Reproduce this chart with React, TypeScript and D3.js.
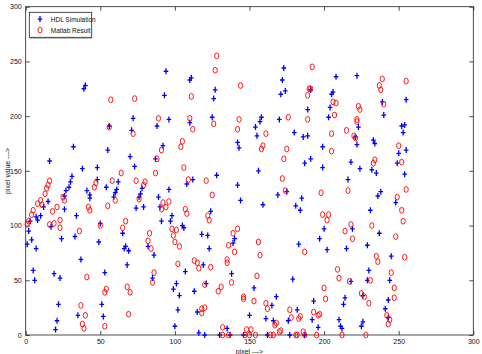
import React, { useEffect, useRef } from "react";
import * as d3 from "d3";

// HDL simulation output (pixel index, pixel value)
const hdlX = [39, 40, 72, 56, 71, 32, 55, 70, 16, 73, 38, 48, 31, 30, 29, 27, 26, 48, 41, 43, 43, 54, 62, 61, 60, 59, 78, 77, 76, 15, 12, 26, 7, 10, 34, 74, 79,
  3, 8, 17, 50, 65, 2, 1, 4, 7, 24, 33, 49, 82, 86, 67, 66, 69, 37, 68, 5, 6, 19, 23, 53, 85, 22, 51, 35, 52, 21, 20,
  94, 111, 110, 173, 172, 93, 127, 126, 174, 171, 191, 189, 96, 125, 158, 170,
  88, 110, 157, 154, 155, 180, 186, 189, 142, 143, 187, 92, 87, 156, 112, 108, 128, 142, 96, 175, 89, 169, 144, 185, 90, 159, 181, 184, 124, 98,
  91, 97, 105, 106, 118, 122, 123, 140, 139, 183, 119, 107, 138, 179, 101, 99, 103, 121, 113, 153, 168, 165, 102, 115, 150, 182, 161, 166, 176, 135, 100,
  116, 120, 130, 137, 146, 162, 177, 187,
  208, 222, 206, 205, 255, 204, 239, 240, 203,
  223, 221, 222, 252, 254, 253, 233, 234, 199, 255, 250, 191, 218, 249, 199, 224, 232, 235, 254, 216, 238, 236, 248, 231,
  200, 219, 237, 197, 229, 202, 215, 245, 230, 218, 229, 244, 226, 214, 243, 213, 193, 241, 243, 192, 210, 226, 225, 196, 211, 212];
const hdlY = [225, 228, 198, 191, 187, 172, 169, 163, 159, 154, 152, 153, 145, 140, 135, 132, 127, 142, 132, 128, 125, 135, 140, 133, 130, 126, 134, 129, 126, 122, 117, 115, 108, 109, 109, 116, 117,
  104, 105, 99, 102, 93, 95, 83, 87, 79, 88, 90, 85, 81, 73, 81, 79, 77, 69, 64, 59, 50, 56, 52, 57, 52, 28, 28, 18, 17, 13, 5,
  241, 235, 233, 244, 233, 219, 224, 216, 223, 220, 224, 206, 197, 199, 199, 197,
  191, 194, 195, 190, 182, 185, 181, 182, 176, 171, 157, 173, 161, 150, 142, 138, 146, 137, 133, 131, 126, 128, 123, 125, 117, 119, 118, 114, 113, 109,
  104, 104, 100, 98, 92, 91, 79, 88, 84, 83, 64, 58, 56, 51, 47, 42, 36, 47, 40, 43, 35, 27, 23, 21, 18, 23, 15, 13, 13, 6, 8,
  2, 0, 0, 0, 0, 0, 0, 0,
  236, 237, 222, 220, 215, 208, 213, 201, 199,
  190, 181, 174, 191, 192, 185, 178, 175, 172, 169, 166, 161, 158, 157, 153, 152, 151, 148, 147, 142, 131, 127, 121, 114,
  97, 97, 93, 88, 82, 78, 79, 72, 59, 49, 50, 50, 36, 34, 32, 28, 31, 24, 16, 14, 14, 12, 8, 7, 8, 6];

// Matlab reference result (pixel index, pixel value)
const matX = [57, 73, 56, 72, 64, 16, 15, 14, 13, 58, 74, 47, 46, 60, 80, 79, 76, 10, 8, 11, 25, 26, 21, 5, 4, 18, 42, 43, 55,
  2, 1, 16, 19, 23, 23, 36, 50, 67, 65, 82, 83, 84, 86, 85, 41, 54, 53, 68, 70, 37, 40, 69, 38, 39, 53,
  128, 127, 144, 192, 111, 190, 191, 189, 89, 110, 143, 176, 189,
  112, 126, 142, 161, 159, 158, 175, 173, 91, 105, 104, 88, 87, 106, 109, 121, 172, 174, 125, 92, 96, 94, 91, 107, 108, 122, 123,
  98, 101, 99, 100, 103, 139, 142, 136, 140, 156, 157, 187, 102, 113, 115, 116, 124, 135, 135, 138, 155, 120, 131, 129, 146, 146, 153, 161, 162, 118, 120, 118,
  177, 178, 184, 183, 168, 167, 132, 148, 151, 170, 171, 186,
  132, 136, 147, 150, 154, 164, 166, 181, 182, 187,
  239, 237, 238, 255, 206, 208, 223, 224, 240, 207, 222,
  222, 215, 205, 220, 221, 250, 205, 234, 233, 252, 216, 255, 198, 249, 252, 199, 203, 202,
  253, 218, 232, 214, 248, 219, 235, 236, 254, 209, 245, 210, 217, 231, 247, 200, 225, 227, 201, 247, 230, 193, 197, 196, 242, 244, 243, 195, 212, 228];
const matY = [215, 216, 190, 184, 148, 141, 137, 134, 129, 141, 141, 139, 135, 123, 140, 137, 124, 123, 120, 119, 126, 123, 117, 114, 110, 113, 117, 114, 118,
  104, 101, 101, 102, 105, 98, 95, 100, 104, 98, 86, 93, 79, 57, 48, 53, 42, 39, 44, 39, 27, 18, 19, 10, 6, 8,
  255, 242, 228, 245, 218, 225, 225, 219, 198, 198, 197, 199, 197,
  188, 193, 188, 184, 173, 170, 170, 161, 169, 177, 172, 161, 148, 153, 142, 141, 143, 132, 128, 121, 122, 117, 115, 115, 111, 109, 105,
  97, 96, 91, 85, 81, 93, 97, 82, 76, 85, 73, 76, 65, 68, 66, 61, 62, 69, 66, 48, 54, 46, 44, 40, 35, 33, 31, 29, 24, 24, 25, 20,
  23, 16, 17, 15, 11, 9, 7, 5, 5, 3, 4, 3,
  0, 0, 0, 0, 0, 0, 0, 0, 0, 0,
  234, 228, 224, 232, 213, 212, 209, 206, 211, 201, 197,
  195, 187, 184, 182, 180, 173, 168, 160, 157, 158, 132, 133, 130, 126, 114, 110, 110, 105,
  104, 101, 100, 95, 90, 88, 72, 67, 71, 60, 57, 52, 49, 50, 43, 43, 38, 35, 33, 34, 29, 21, 19, 18, 18, 14, 10, 0, 0, 0];

const xTicks = [0, 50, 100, 150, 200, 250, 300];
const yTicks = [0, 50, 100, 150, 200, 250, 300];
const seriesNames = ["HDL Simulation", "Matlab Result"];

export default function App() {
  const ref = useRef<SVGSVGElement>(null);

  useEffect(() => {
    const width = 482;
    const height = 354;
    const margin = { top: 6.7, right: 8.7, bottom: 19, left: 25.7 };
    const innerWidth = width - margin.left - margin.right;
    const innerHeight = height - margin.top - margin.bottom;
    const font = "'Liberation Sans Narrow', 'Liberation Sans', Arial, sans-serif";

    const svg = d3.select(ref.current);
    svg.selectAll("*").remove();
    svg.append("rect").attr("width", width).attr("height", height).attr("fill", "#fff");

    const g = svg.append("g").attr("transform", `translate(${margin.left},${margin.top})`);

    const xScale = d3.scaleLinear().domain([0, 300]).range([0, innerWidth]);
    const yScale = d3.scaleLinear().domain([0, 300]).range([innerHeight, 0]);

    // box
    g.append("rect")
      .attr("width", innerWidth)
      .attr("height", innerHeight)
      .attr("fill", "none")
      .attr("stroke", "#222")
      .attr("stroke-width", 0.8);

    const styleAxis = (sel: any) => {
      sel.select(".domain").remove();
      sel.selectAll("line").attr("stroke", "#222").attr("stroke-width", 0.8);
      sel.selectAll("text").attr("font-family", font).attr("font-size", 7).attr("fill", "#111");
    };

    g.append("g")
      .attr("transform", `translate(0,${innerHeight})`)
      .call(d3.axisBottom(xScale).tickValues(xTicks).tickSize(-4).tickSizeOuter(0).tickPadding(4).tickFormat(d3.format("d")))
      .call(styleAxis);
    g.append("g")
      .call(d3.axisLeft(yScale).tickValues(yTicks).tickSize(-4).tickSizeOuter(0).tickPadding(4).tickFormat(d3.format("d")))
      .call(styleAxis);
    g.append("g")
      .call(d3.axisTop(xScale).tickValues(xTicks).tickSize(-4).tickSizeOuter(0).tickFormat(() => ""))
      .call(styleAxis);
    g.append("g")
      .attr("transform", `translate(${innerWidth},0)`)
      .call(d3.axisRight(yScale).tickValues(yTicks).tickSize(-4).tickSizeOuter(0).tickFormat(() => ""))
      .call(styleAxis);

    // HDL simulation markers (+)
    const plus = "M-2.3,0H2.3M0,-3V3";
    g.append("g")
      .selectAll("path")
      .data(hdlX.map((x, i) => [x, hdlY[i]]))
      .join("path")
      .attr("transform", (d) => `translate(${xScale(d[0])},${yScale(d[1])})`)
      .attr("d", plus)
      .attr("stroke", "#0000ff")
      .attr("stroke-width", 1.3)
      .attr("fill", "none");

    // Matlab result markers (o)
    g.append("g")
      .selectAll("ellipse")
      .data(matX.map((x, i) => [x, matY[i]]))
      .join("ellipse")
      .attr("cx", (d) => xScale(d[0]))
      .attr("cy", (d) => yScale(d[1]))
      .attr("rx", 2.1)
      .attr("ry", 2.9)
      .attr("stroke", "#ff0000")
      .attr("stroke-width", 0.9)
      .attr("fill", "none");

    // legend
    const legend = svg.append("g").attr("transform", "translate(29.3,12.3)");
    legend.append("rect")
      .attr("width", 62.4)
      .attr("height", 25)
      .attr("fill", "#fff")
      .attr("stroke", "#222")
      .attr("stroke-width", 0.8);
    legend.append("line")
      .attr("x1", 0.5).attr("x2", 62.9).attr("y1", 25.6).attr("y2", 25.6)
      .attr("stroke", "#555").attr("stroke-width", 1);
    legend.append("path")
      .attr("transform", "translate(10.7,6.8)")
      .attr("d", plus)
      .attr("stroke", "#0000ff")
      .attr("stroke-width", 1.3);
    legend.append("ellipse")
      .attr("cx", 10.7).attr("cy", 17.8).attr("rx", 2.1).attr("ry", 2.9)
      .attr("stroke", "#ff0000").attr("stroke-width", 0.9).attr("fill", "none");
    legend.selectAll("text.lbl")
      .data(seriesNames)
      .join("text")
      .attr("class", "lbl")
      .attr("x", 21.5)
      .attr("y", (d, i) => 9.3 + i * 11)
      .attr("font-family", font)
      .attr("font-size", 6.5)
      .attr("fill", "#111")
      .text((d) => d);

    // axis titles
    svg.append("text")
      .attr("x", margin.left + innerWidth / 2)
      .attr("y", 354)
      .attr("text-anchor", "middle")
      .attr("font-family", font)
      .attr("font-size", 7)
      .attr("fill", "#111")
      .text("pixel --->");
    svg.append("text")
      .attr("transform", `translate(10,${margin.top + innerHeight / 2}) rotate(-90)`)
      .attr("text-anchor", "middle")
      .attr("font-family", font)
      .attr("font-size", 7)
      .attr("fill", "#111")
      .text("pixel value --->");
  }, []);

  return (
    <svg
      ref={ref}
      width={482}
      height={354}
      style={{ position: "absolute", left: 0, top: 0, display: "block" }}
    />
  );
}
